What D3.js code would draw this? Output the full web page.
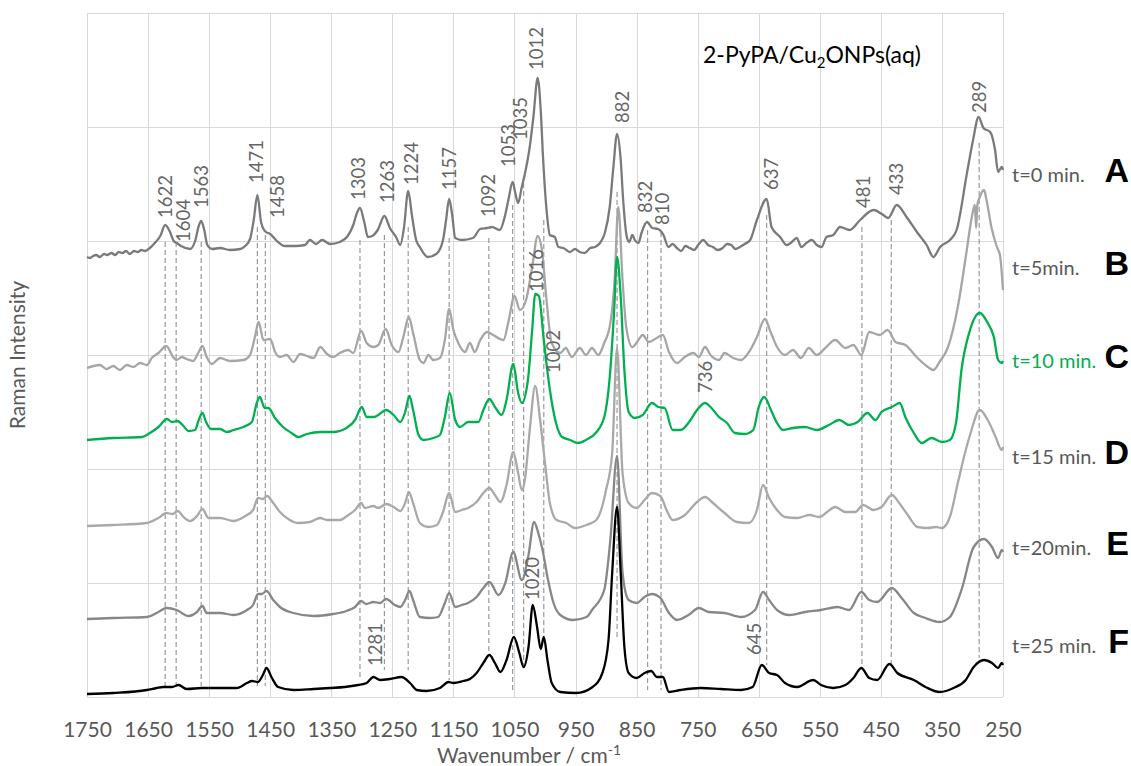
<!DOCTYPE html>
<html>
<head>
<meta charset="utf-8">
<script src="https://cdn.jsdelivr.net/npm/d3@7"></script>
<style>
  html, body { margin: 0; padding: 0; background: #fff; }
  svg { display: block; font-family: Lato, "Open Sans", sans-serif; }
</style>
</head>
<body>
<svg id="chart" width="1131" height="766"></svg>
<script>
// Wavenumber axis ticks (cm-1), reversed as usual for Raman spectra
const wavenumberTicks = [1750, 1650, 1550, 1450, 1350, 1250, 1150, 1050, 950, 850, 750, 650, 550, 450, 350, 250];
// Horizontal grid levels (arbitrary intensity units, stacked spectra)
const intensityGrid = [0, 114, 228, 342, 456, 570, 684];

// Stacked spectra: [wavenumber, intensity]
const spectrumA = [[1750,440],[1745,439],[1740,441],[1735,442],[1729,440],[1722,443],[1717,442],[1710,444],[1704,442],[1698,445],[1692,444],[1686,446],[1680,443],[1673,446],[1667,445],[1661,447],[1655,446],[1647,449],[1639,454],[1630,461],[1622,472],[1614,465],[1608,456],[1603,454],[1596,451],[1581,448],[1573,456],[1567,471],[1563,476],[1558,467],[1553,452],[1545,448],[1532,449],[1516,447],[1499,448],[1491,451],[1483,458],[1477,477],[1471,502],[1465,475],[1460,467],[1457,465],[1450,463],[1439,456],[1426,451],[1409,451],[1393,452],[1385,457],[1375,453],[1365,457],[1352,453],[1336,455],[1323,461],[1314,472],[1308,484],[1303,489],[1296,475],[1290,460],[1283,461],[1274,467],[1263,481],[1254,469],[1244,460],[1237,452],[1231,469],[1224,506],[1218,482],[1211,457],[1205,450],[1192,440],[1178,443],[1167,457],[1162,477],[1157,498],[1152,482],[1147,459],[1136,457],[1118,459],[1106,468],[1095,469],[1087,470],[1074,467],[1066,480],[1060,497],[1053,515],[1049,505],[1044,494],[1038,510],[1033,523],[1025,550],[1019,580],[1012,619],[1007,587],[1003,537],[997,484],[992,462],[984,460],[978,450],[970,449],[959,445],[951,448],[943,445],[935,444],[926,449],[918,450],[910,454],[902,464],[894,490],[888,530],[882,563],[876,537],[872,497],[866,460],[862,455],[857,462],[853,457],[847,454],[842,464],[833,475],[824,469],[815,468],[806,462],[798,450],[791,453],[784,449],[777,446],[770,451],[763,449],[756,447],[748,453],[741,457],[733,452],[725,450],[717,447],[709,449],[702,453],[695,452],[688,448],[681,450],[673,453],[664,457],[653,477],[637,498],[629,470],[615,460],[604,452],[596,455],[588,459],[580,450],[572,454],[563,457],[555,452],[547,450],[539,460],[528,462],[517,470],[501,467],[484,477],[462,487],[446,482],[438,479],[424,492],[408,480],[391,465],[375,452],[364,440],[353,450],[337,457],[326,467],[309,524],[299,557],[290,580],[282,569],[271,565],[263,547],[258,525],[252,530],[250,527]];

const spectrumB = [[1750,329],[1729,332],[1718,328],[1707,331],[1696,327],[1685,332],[1674,330],[1663,334],[1652,332],[1644,339],[1633,344],[1620,351],[1609,340],[1603,337],[1595,340],[1587,338],[1576,336],[1568,344],[1561,351],[1554,340],[1546,333],[1532,339],[1516,336],[1494,337],[1483,342],[1475,360],[1469,375],[1461,357],[1450,358],[1442,345],[1434,340],[1423,342],[1412,335],[1401,343],[1390,341],[1379,339],[1368,350],[1357,343],[1347,340],[1336,344],[1322,347],[1314,344],[1301,366],[1292,354],[1281,350],[1273,352],[1261,368],[1251,352],[1240,345],[1232,360],[1223,380],[1216,364],[1205,337],[1199,334],[1191,342],[1183,337],[1172,339],[1164,357],[1157,388],[1150,367],[1142,354],[1131,345],[1123,354],[1115,345],[1106,357],[1095,365],[1085,362],[1068,357],[1060,375],[1050,401],[1041,387],[1031,397],[1021,430],[1012,461],[1005,447],[998,400],[989,354],[975,344],[966,349],[956,340],[943,349],[933,342],[923,349],[913,342],[903,354],[893,374],[886,417],[880,490],[873,417],[867,370],[857,350],[847,357],[840,362],[830,355],[817,359],[807,362],[797,345],[784,334],[771,340],[757,344],[748,340],[738,350],[729,342],[715,337],[706,344],[692,339],[679,337],[666,345],[653,360],[640,378],[630,364],[620,350],[607,342],[594,347],[581,339],[568,349],[555,342],[541,349],[525,357],[508,349],[495,352],[482,342],[469,365],[452,362],[439,367],[426,355],[410,352],[390,339],[373,330],[364,327],[354,335],[340,350],[324,390],[311,440],[301,480],[296,492],[294,469],[292,492],[288,500],[281,507],[277,497],[269,470],[260,450],[255,442],[250,407]];

const spectrumC = [[1750,257],[1707,259],[1660,260],[1647,264],[1633,270],[1619,278],[1611,275],[1602,276],[1592,271],[1584,266],[1573,267],[1567,277],[1561,284],[1555,275],[1547,268],[1532,268],[1521,265],[1510,267],[1494,270],[1480,275],[1472,294],[1467,300],[1459,289],[1453,289],[1442,279],[1429,270],[1415,264],[1404,260],[1390,263],[1368,265],[1347,265],[1325,269],[1311,277],[1300,290],[1292,280],[1281,280],[1273,282],[1260,287],[1248,282],[1237,275],[1229,285],[1222,301],[1216,287],[1207,262],[1199,257],[1183,259],[1172,262],[1164,280],[1156,304],[1147,277],[1139,270],[1126,275],[1109,275],[1101,287],[1091,298],[1082,290],[1071,282],[1063,297],[1052,333],[1044,304],[1038,294],[1028,317],[1021,367],[1016,403],[1010,401],[1002,357],[992,307],[982,274],[972,260],[959,257],[946,254],[933,257],[917,264],[903,280],[893,327],[887,384],[882,440],[876,400],[870,327],[863,285],[853,279],[840,282],[825,294],[814,290],[804,289],[791,267],[778,267],[764,275],[751,287],[738,294],[729,290],[715,280],[702,274],[689,264],[673,263],[659,267],[650,290],[641,300],[630,287],[620,274],[610,267],[594,269],[574,270],[555,267],[535,272],[518,277],[502,272],[488,275],[472,284],[459,277],[449,285],[432,290],[419,294],[410,280],[396,264],[383,254],[367,259],[350,255],[337,257],[327,274],[318,327],[304,367],[288,384],[275,374],[265,360],[258,337],[252,334],[250,336]];

const spectrumD = [[1750,171],[1707,172],[1652,174],[1633,179],[1620,184],[1610,183],[1601,186],[1592,180],[1581,176],[1570,181],[1561,188],[1551,179],[1532,179],[1510,176],[1491,181],[1478,187],[1470,199],[1462,198],[1455,201],[1445,194],[1434,185],[1418,177],[1404,174],[1385,175],[1368,179],[1357,177],[1336,177],[1322,182],[1311,187],[1301,194],[1295,189],[1281,191],[1273,189],[1260,193],[1248,190],[1237,186],[1229,194],[1223,205],[1216,194],[1205,174],[1191,170],[1177,172],[1167,185],[1157,204],[1147,185],[1136,187],[1126,189],[1112,195],[1101,204],[1091,209],[1082,202],[1073,195],[1063,212],[1052,245],[1044,224],[1038,207],[1033,217],[1025,267],[1016,311],[1008,277],[1000,234],[992,194],[981,177],[965,174],[951,169],[932,172],[916,177],[900,207],[890,244],[882,349],[873,224],[863,194],[850,189],[837,197],[825,204],[811,201],[801,187],[791,177],[771,182],[751,195],[738,200],[725,194],[706,184],[686,175],[666,174],[653,187],[643,212],[633,199],[620,187],[607,180],[587,179],[567,182],[551,180],[538,185],[525,190],[508,185],[492,185],[479,192],[462,187],[449,190],[432,202],[420,194],[406,182],[390,170],[373,169],[360,170],[350,169],[337,180],[324,214],[311,247],[304,262],[288,287],[275,277],[262,260],[252,247],[250,250]];

const spectrumE = [[1750,78],[1707,79],[1652,80],[1633,85],[1620,89],[1603,87],[1584,81],[1570,85],[1561,91],[1554,84],[1532,84],[1510,82],[1488,87],[1478,92],[1470,103],[1464,103],[1456,106],[1445,97],[1434,90],[1412,84],[1379,81],[1347,83],[1325,86],[1311,90],[1301,96],[1293,93],[1281,95],[1270,94],[1260,98],[1246,92],[1237,90],[1229,97],[1222,106],[1216,97],[1205,80],[1188,79],[1175,80],[1164,94],[1157,104],[1147,90],[1136,92],[1126,94],[1112,100],[1101,109],[1091,115],[1076,102],[1065,114],[1052,145],[1038,117],[1027,142],[1018,175],[1011,164],[1004,147],[996,120],[986,94],[975,82],[954,77],[932,80],[923,87],[903,107],[893,157],[882,241],[873,124],[863,97],[850,94],[837,100],[825,103],[811,99],[797,84],[784,77],[765,82],[748,89],[732,85],[706,84],[679,80],[656,87],[643,105],[633,97],[620,87],[600,82],[574,85],[548,87],[521,90],[502,87],[482,105],[469,97],[456,95],[432,109],[416,99],[396,84],[377,79],[354,75],[337,80],[318,107],[298,150],[281,158],[268,150],[258,139],[252,147],[250,145]];

const spectrumF = [[1750,3],[1707,4],[1652,7],[1636,9],[1625,10],[1611,10],[1600,12],[1587,8],[1562,9],[1532,9],[1505,9],[1488,14],[1480,16],[1470,15],[1462,22],[1456,29],[1448,20],[1437,10],[1412,7],[1379,8],[1352,9],[1328,10],[1306,12],[1292,14],[1281,20],[1270,17],[1254,18],[1235,20],[1221,14],[1210,7],[1194,6],[1172,9],[1158,15],[1150,14],[1134,16],[1123,18],[1112,24],[1101,34],[1091,42],[1082,34],[1073,25],[1063,37],[1051,60],[1042,44],[1035,30],[1027,50],[1020,92],[1013,70],[1007,48],[1002,60],[996,37],[989,14],[975,5],[949,4],[922,10],[906,24],[896,57],[890,124],[882,190],[876,124],[870,50],[863,24],[850,19],[837,24],[826,26],[817,20],[807,20],[797,5],[778,7],[745,9],[712,8],[679,7],[660,10],[645,32],[633,24],[620,22],[607,14],[587,10],[561,17],[548,12],[528,9],[508,12],[495,19],[482,29],[469,19],[456,17],[436,33],[423,24],[396,17],[377,10],[354,5],[331,9],[311,17],[298,30],[281,37],[268,34],[258,29],[252,34],[250,32]];

// Series: name, time label, colour, values (drawn in this order)
const seriesNames = ["A", "B", "D", "E", "F", "C"];
const seriesTimes = { A: "t=0 min.", B: "t=5min.", C: "t=10 min.", D: "t=15 min.", E: "t=20min.", F: "t=25 min." };
const seriesValues = { A: spectrumA, B: spectrumB, C: spectrumC, D: spectrumD, E: spectrumE, F: spectrumF };
// Intensity level at which each time label sits
const seriesLabelLevel = { A: 515, B: 422, C: 329, D: 233, E: 142, F: 44 };

// Peak labels: [text, wavenumber of label, intensity where text starts]
const peakLabels = [
  ["1622",1622,479],["1604",1592,455],["1563",1562,489],["1471",1472,514],["1458",1439,479],
  ["1303",1306,497],["1263",1259,494],["1224",1219,512],["1157",1156,507],["1092",1093,480],
  ["1053",1060,530],["1035",1041,557],["1012",1014,627],["882",874,574],["832",835,484],
  ["810",808,472],["637",629,507],["481",479,489],["433",424,502],["289",288,584],
  ["1016",1015,405],["1002",986,324],["736",738,304],
  ["1281",1278,31],["1020",1021,97],["645",658,42]
];
// Guide lines: [wavenumber, top intensity, bottom intensity]
const guideLines = [
  [1622,455,11],[1604,455,11],[1563,455,11],[1471,470,11],[1458,462,11],
  [1303,457,17],[1263,462,27],[1224,470,27],[1157,459,17],[1092,459,44],
  [1053,492,7],[1035,514,30],[1002,477,57],[882,505,57],[832,467,7],
  [810,465,7],[637,482,32],[481,470,29],[433,477,32],[289,554,39]
];

const colors = { A: "#7a7a7a", B: "#a6a6a6", C: "#00b050", D: "#a9a9a9", E: "#878787", F: "#000000" };

const svg = d3.select("#chart");
const plot = { left: 87, right: 1003, top: 13, bottom: 697 };

const x = d3.scaleLinear().domain([1750, 250]).range([plot.left, plot.right]);
const y = d3.scaleLinear().domain([0, 684]).range([plot.bottom, plot.top]);

// Gridlines
const grid = svg.append("g").attr("stroke", "#d9d9d9").attr("stroke-width", 1);
grid.selectAll("line.v").data(wavenumberTicks).join("line")
  .attr("class", "v")
  .attr("x1", d => Math.round(x(d)) + 0.5).attr("x2", d => Math.round(x(d)) + 0.5)
  .attr("y1", y(684)).attr("y2", y(0));
grid.selectAll("line.h").data(intensityGrid).join("line")
  .attr("class", "h")
  .attr("x1", x(1750)).attr("x2", x(250))
  .attr("y1", d => Math.round(y(d)) + 0.5).attr("y2", d => Math.round(y(d)) + 0.5);

// x axis (labels only)
const xAxis = d3.axisBottom(x).tickValues(wavenumberTicks).tickSize(0).tickPadding(25).tickFormat(d3.format("d"));
const gx = svg.append("g").attr("transform", `translate(0,${plot.bottom})`).call(xAxis);
gx.select(".domain").remove();
gx.selectAll("text").attr("font-family", "Lato, sans-serif").attr("font-size", 21).attr("fill", "#595959");

// Guide lines
svg.append("g").selectAll("line").data(guideLines).join("line")
  .attr("x1", d => x(d[0])).attr("x2", d => x(d[0]))
  .attr("y1", d => y(d[1])).attr("y2", d => y(d[2]))
  .attr("stroke", "#9a9a9a").attr("stroke-width", 1.2).attr("stroke-dasharray", "5,3");

// Spectra (sorted along the axis so the monotone curve is well defined)
const line = d3.line().x(d => x(d[0])).y(d => y(d[1])).curve(d3.curveMonotoneX);
svg.append("g").selectAll("path").data(seriesNames).join("path")
  .attr("d", k => line(seriesValues[k].slice().sort((a, b) => b[0] - a[0])))
  .attr("fill", "none")
  .attr("stroke", k => colors[k])
  .attr("stroke-width", 2.3)
  .attr("stroke-linejoin", "round");

// Peak labels
svg.append("g").selectAll("text").data(peakLabels).join("text")
  .attr("transform", d => `translate(${x(d[1])},${y(d[2])}) rotate(-90)`)
  .attr("dy", "0.36em")
  .attr("font-size", 18.5)
  .attr("fill", "#666666")
  .text(d => d[0]);

// Time labels and letters
const right = svg.append("g");
right.selectAll("text.t").data(seriesNames).join("text")
  .attr("class", "t")
  .attr("x", 1012).attr("y", k => y(seriesLabelLevel[k]))
  .attr("font-size", 20)
  .attr("fill", k => k === "C" ? "#00b050" : "#595959")
  .text(k => seriesTimes[k]);
right.selectAll("text.l").data(seriesNames).join("text")
  .attr("class", "l")
  .attr("x", 1129).attr("y", k => y(seriesLabelLevel[k]))
  .attr("text-anchor", "end")
  .attr("font-family", "'Liberation Sans', Arial, sans-serif")
  .attr("font-weight", "bold")
  .attr("font-size", 34)
  .attr("fill", "#000")
  .text(k => k);

// Title
const title = svg.append("text").attr("x", 703).attr("y", 63).attr("font-size", 23).attr("fill", "#000");
title.append("tspan").text("2-PyPA/Cu");
title.append("tspan").attr("dy", 5).attr("font-size", 15).text("2");
title.append("tspan").attr("dy", -5).text("ONPs(aq)");

// Axis titles
const xt = svg.append("text").attr("x", 529).attr("y", 763).attr("text-anchor", "middle")
  .attr("font-size", 21).attr("fill", "#595959");
xt.append("tspan").text("Wavenumber  / cm");
xt.append("tspan").attr("dy", -8).attr("font-size", 14).text("-1");

svg.append("text")
  .attr("transform", `translate(25,${(plot.top + plot.bottom) / 2}) rotate(-90)`)
  .attr("text-anchor", "middle")
  .attr("font-size", 21).attr("fill", "#595959")
  .text("Raman Intensity");
</script>
</body>
</html>
